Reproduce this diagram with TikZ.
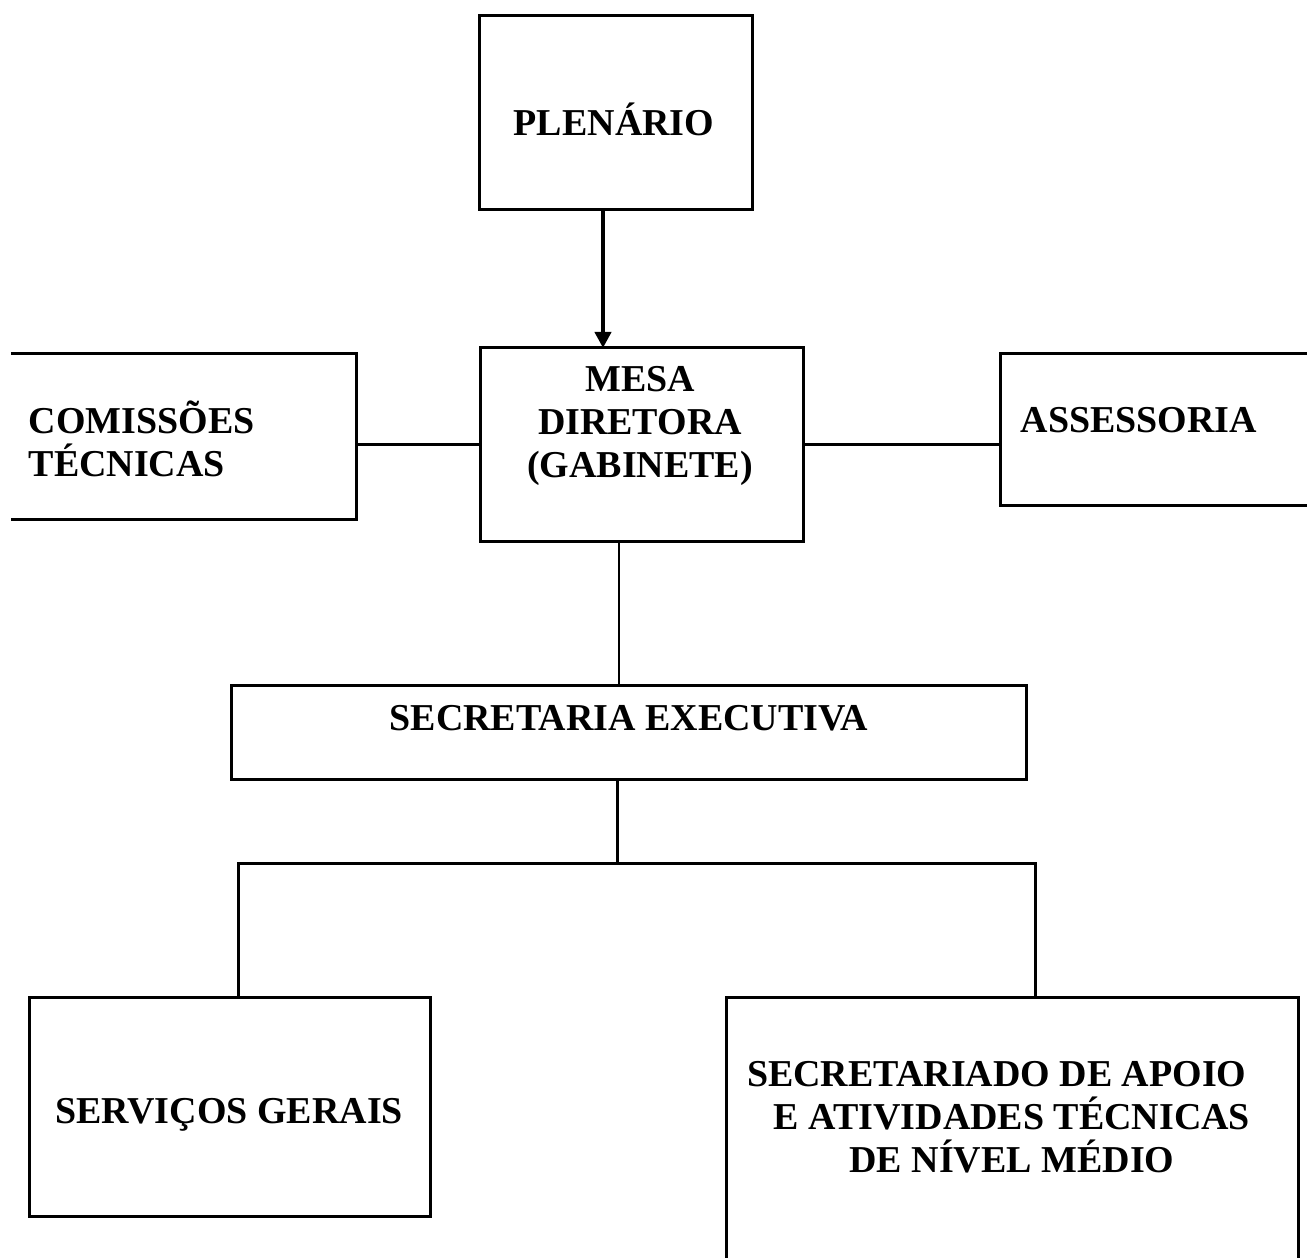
\documentclass[tikz,border=0pt]{standalone}
\usepackage{fontspec}
\setmainfont{Liberation Serif}
\usetikzlibrary{arrows.meta,calc}
\tikzset{
    box/.style   = {inner sep=0pt, outer sep=0pt},
    frame/.style = {line width=0.85pt},
    link/.style  = {line width=0.85pt},
    arrow/.style = {-{Triangle[length=1.6mm,width=1.6mm]}, line width=1.3pt},
    lbl/.style   = {font=\fontsize{10.8}{12.1}\selectfont\bfseries, inner sep=0pt}
}

\begin{document}
\begin{tikzpicture}[x=0.01cm, y=-0.01cm]

    \useasboundingbox (0,0) rectangle (1307,1257);

    % =================================================
    % 1. Boxes
    % =================================================
    \node[box, draw, frame, minimum width=2.72cm, minimum height=1.93cm] (plen) at (616,112.5) {};
    \node[box, draw, frame, minimum width=3.22cm, minimum height=1.93cm] (mesa) at (642,444.5) {};
    \node[box, minimum width=3.45cm, minimum height=1.65cm] (com) at (183.5,436.5) {};
    \node[box, minimum width=3.06cm, minimum height=1.51cm] (ass) at (1154,429.5) {};
    \node[box, draw, frame, minimum width=7.94cm, minimum height=0.93cm] (sec) at (629,732.5) {};
    \node[box, draw, frame, minimum width=4.00cm, minimum height=2.18cm] (serv) at (230,1107) {};
    \node[box, minimum width=5.71cm, minimum height=2.64cm] (apoio) at (1012.5,1130) {};

    % boxes cut by the page edge (one side open)
    \draw[frame] (com.north west) -- (com.north east) -- (com.south east) -- (com.south west);
    \draw[frame] (ass.north east) -- (ass.north west) -- (ass.south west) -- (ass.south east);
    \draw[frame] (apoio.south west) -- (apoio.north west) -- (apoio.north east) -- (apoio.south east);

    % =================================================
    % 2. Labels (multi-line ones sit on their last baseline)
    % =================================================
    \node[lbl, anchor=base] (plenT) at (614,135) {PLENÁRIO};
    \node[lbl, anchor=base, align=center] (mesaT) at (640,477)
      {MESA\\DIRETORA\\(GABINETE)};
    \node[lbl, anchor=base west, align=left] (comT) at (28,476)
      {COMISSÕES\\TÉCNICAS};
    \node[lbl, anchor=base west] (assT) at (1020,432) {ASSESSORIA};
    \node[lbl, anchor=base] (secT) at (629,730) {SECRETARIA EXECUTIVA};
    \node[lbl, anchor=base] (servT) at (229,1123) {SERVIÇOS GERAIS};
    \node[lbl, anchor=base, align=center] (apoioT) at (1012,1172)
      {SECRETARIADO DE APOIO\hspace*{0.8em}\\E ATIVIDADES TÉCNICAS\\DE NÍVEL MÉDIO};

    % =================================================
    % 3. Connectors
    % =================================================
    \draw[arrow] ([xshift=-0.13cm]plen.south) -- ([xshift=-0.13cm]plen.south |- mesa.north);
    \draw[link] (mesa.west) -- (mesa.west -| com.east);
    \draw[link] (mesa.east) -- (mesa.east -| ass.west);
    \draw[link] ([xshift=-0.23cm]mesa.south) -- ([xshift=-0.23cm]mesa.south |- sec.north);

    \coordinate (bus) at (617,863);
    \draw[link] (sec.south -| bus) -- (bus);
    \draw[link] ([xshift=0.08cm]serv.north) -- ([xshift=0.08cm]serv.north |- bus)
      -- ([xshift=0.225cm]apoio.north |- bus) -- ([xshift=0.225cm]apoio.north);

\end{tikzpicture}
\end{document}
